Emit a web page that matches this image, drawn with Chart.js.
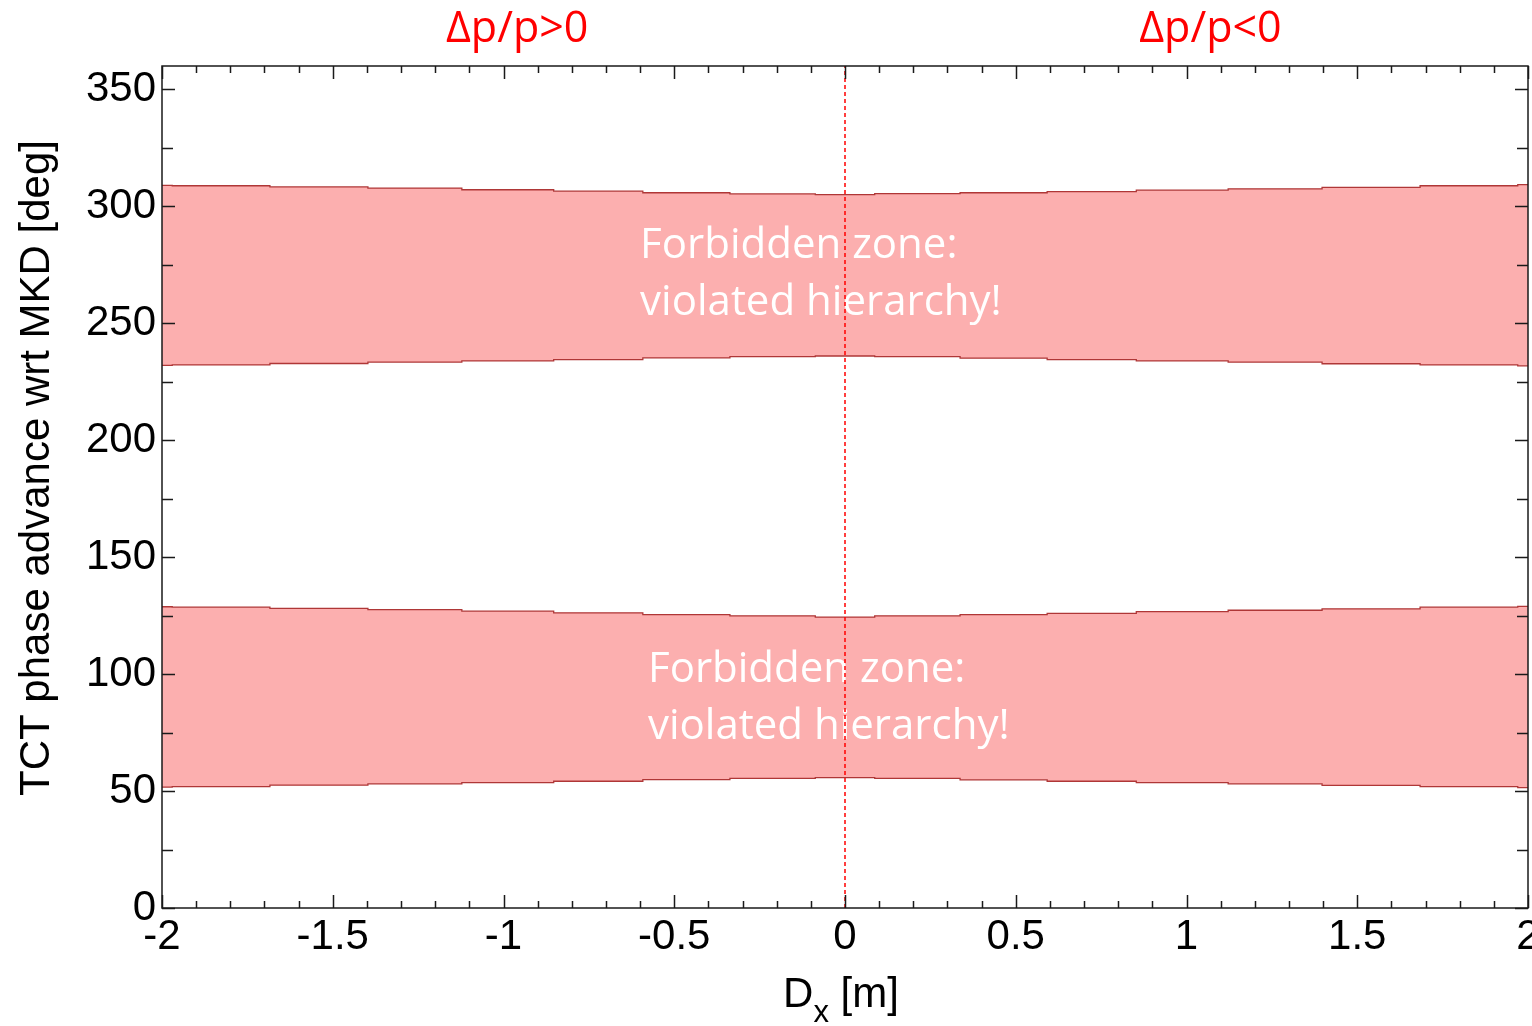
<!DOCTYPE html>
<html>
<head>
<meta charset="utf-8">
<script src="https://cdn.jsdelivr.net/npm/chart.js@4.4.1/dist/chart.umd.min.js"></script>
<style>
  html, body { margin:0; padding:0; background:#fff; }
</style>
</head>
<body>
<canvas id="phaseChart" width="1532" height="1026"></canvas>
<script>
// =====================
// DATA
// =====================
// dispersion Dx [m] where the band edges step
const dxSteps = [-2, -1.97, -1.684, -1.397, -1.122, -0.853, -0.592, -0.337, -0.087,
                 0.087, 0.337, 0.592, 0.853, 1.122, 1.397, 1.684, 1.97, 2]

// upper forbidden zone edges [deg]
const upperTop    = [309.0, 308.8, 308.3, 307.8, 307.1, 306.5, 305.8, 305.3, 305.0,
                     305.4, 305.8, 306.3, 306.9, 307.5, 308.1, 308.8, 309.3, 309.3]
const upperBottom = [232.0, 232.2, 232.8, 233.4, 233.9, 234.5, 235.2, 235.7, 236.0,
                     235.7, 235.1, 234.5, 233.9, 233.4, 232.7, 232.2, 231.8, 231.8]

// lower forbidden zone edges [deg]
const lowerTop    = [128.8, 128.6, 128.1, 127.6, 126.9, 126.2, 125.4, 124.9, 124.4,
                     124.9, 125.4, 126.0, 126.7, 127.3, 127.9, 128.6, 129.0, 129.0]
const lowerBottom = [51.7, 51.9, 52.5, 53.1, 53.6, 54.2, 54.9, 55.4, 55.7,
                     55.4, 54.8, 54.2, 53.6, 53.1, 52.4, 51.9, 51.5, 51.5]

// axes
const xTicks = [-2, -1.5, -1, -0.5, 0, 0.5, 1, 1.5, 2]
const yTicks = [0, 50, 100, 150, 200, 250, 300, 350]
const xRange = [-2, 2]
const yRange = [0, 360]

// annotations
const zoneText = ["Forbidden zone:", "violated hierarchy!"]
const zoneAnchorX = [-0.600, -0.577]
const zoneAnchorY = [278, 96.8]
const momentumText = ["\u0394p/p>0", "\u0394p/p<0"]
const momentumX = [-0.96, 1.07]

// =====================
// STYLE
// =====================
const BAND_FILL = "rgb(252,175,175)"
const BAND_EDGE = "rgb(175,55,55)"
const AXIS = "#1a1a1a"
const SANS = "'Liberation Sans', Arial, sans-serif"
const NOTE = "'Open Sans', sans-serif"

function pts(ys){
  return dxSteps.map((x, i) => ({x, y: ys[i]}))
}

function edge(ys, fill){
  return {
    data: pts(ys),
    borderColor: BAND_EDGE,
    borderWidth: 1.3,
    backgroundColor: BAND_FILL,
    fill: fill,
    stepped: "before",
    pointRadius: 0,
    tension: 0
  }
}

// =====================
// FRAME, TICKS, TITLES
// =====================
const decorations = {
  id: "decorations",
  afterDatasetDraw(chart, args){
    // labels sit on the bands, under the dashed Dx = 0 line
    if(args.index !== 1) return
    const {ctx, scales:{x, y}} = chart
    ctx.save()
    ctx.fillStyle = "#fff"
    ctx.font = "42px " + NOTE
    ctx.textAlign = "left"
    ctx.textBaseline = "alphabetic"
    zoneAnchorX.forEach((ax, i) => {
      const px = x.getPixelForValue(ax)
      const py = y.getPixelForValue(zoneAnchorY[i])
      ctx.fillText(zoneText[0], px, py)
      ctx.fillText(zoneText[1], px, py + 57)
    })
    ctx.restore()
  },
  afterDraw(chart){
    const {ctx, chartArea:a, scales:{x, y}} = chart
    ctx.save()
    ctx.strokeStyle = AXIS
    ctx.lineWidth = 1.5

    // inward ticks on all four sides
    ctx.beginPath()
    for(let k = -20; k <= 20; k++){
      const v = k / 10
      const px = Math.round(x.getPixelForValue(v)) + 0.5
      const len = (k % 5 === 0) ? 13 : 7
      ctx.moveTo(px, a.bottom); ctx.lineTo(px, a.bottom - len)
      ctx.moveTo(px, a.top); ctx.lineTo(px, a.top + len)
    }
    for(let v = 0; v <= 350; v += 25){
      const py = Math.round(y.getPixelForValue(v)) + 0.5
      const len = (v % 50 === 0) ? 13 : 11
      ctx.moveTo(a.left, py); ctx.lineTo(a.left + len, py)
      ctx.moveTo(a.right, py); ctx.lineTo(a.right - len, py)
    }
    ctx.stroke()

    // box
    ctx.strokeRect(a.left, a.top, a.right - a.left, a.bottom - a.top)

    // y title
    ctx.fillStyle = "#000"
    ctx.font = "42px " + SANS
    ctx.textAlign = "center"
    ctx.textBaseline = "middle"
    ctx.save()
    ctx.translate(37, 468)
    ctx.rotate(-Math.PI / 2)
    ctx.fillText("TCT phase advance wrt MKD [deg]", 0, 0)
    ctx.restore()

    // x title with subscript
    ctx.textAlign = "left"
    ctx.textBaseline = "alphabetic"
    ctx.font = "42px " + SANS
    const wD = ctx.measureText("D").width
    const wM = ctx.measureText(" [m]").width
    ctx.font = "31px " + SANS
    const wx = ctx.measureText("x").width
    let tx = (a.left + a.right) / 2 - 4 - (wD + wx + wM) / 2
    ctx.font = "42px " + SANS
    ctx.fillText("D", tx, 1007)
    ctx.font = "31px " + SANS
    ctx.fillText("x", tx + wD, 1022)
    ctx.font = "42px " + SANS
    ctx.fillText(" [m]", tx + wD + wx, 1007)

    // momentum offset labels above the frame
    ctx.fillStyle = "#ff0000"
    ctx.font = "43px " + NOTE
    ctx.textAlign = "center"
    momentumX.forEach((mx, i) => {
      ctx.fillText(momentumText[i], x.getPixelForValue(mx), a.top - 24)
    })
    ctx.restore()
  }
}

// =====================
// CHART
// =====================
new Chart(document.getElementById("phaseChart"), {
  type: "line",
  data: {
    datasets: [
      {
        data: [{x: 0, y: yRange[0]}, {x: 0, y: yRange[1]}],
        borderColor: "#ff0000",
        borderWidth: 1.5,
        borderDash: [4, 3],
        pointRadius: 0,
        fill: false
      },
      edge(upperTop, false),
      edge(upperBottom, "-1"),
      edge(lowerTop, false),
      edge(lowerBottom, "-1")
    ]
  },
  options: {
    responsive: false,
    animation: false,
    layout: { padding: { top: 66, right: 4, left: 0, bottom: 0 } },
    plugins: {
      legend: { display: false },
      tooltip: { enabled: false }
    },
    scales: {
      x: {
        type: "linear",
        min: xRange[0], max: xRange[1],
        grid: { display: false, drawTicks: false },
        border: { display: false },
        ticks: {
          color: "#000",
          font: { family: SANS, size: 42 },
          padding: 4,
          maxRotation: 0,
          autoSkip: false,
          callback: v => String(v)
        },
        afterBuildTicks: s => { s.ticks = xTicks.map(v => ({value: v})) },
        afterFit: s => { s.height = 118; s.paddingLeft = 0; s.paddingRight = 0 }
      },
      y: {
        min: yRange[0], max: yRange[1],
        grid: { display: false, drawTicks: false },
        border: { display: false },
        ticks: {
          color: "#000",
          font: { family: SANS, size: 42 },
          padding: 6,
          callback: v => String(v)
        },
        afterBuildTicks: s => { s.ticks = yTicks.map(v => ({value: v})) },
        afterFit: s => { s.width = 162; s.paddingTop = 0; s.paddingBottom = 0 }
      }
    }
  },
  plugins: [decorations]
})
</script>
</body>
</html>
